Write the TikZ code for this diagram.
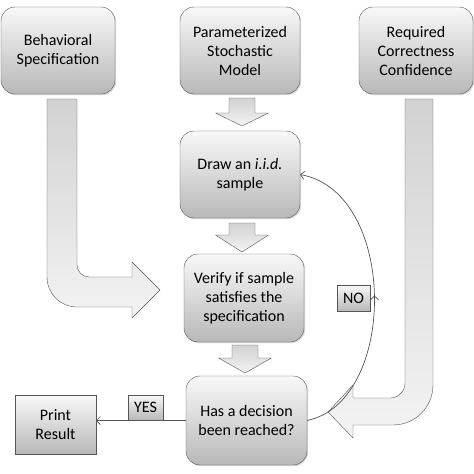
\documentclass[tikz,border=0pt]{standalone}
\usepackage{fontspec}
\setmainfont{Carlito}
\usepackage{tikz}
\usetikzlibrary{shadows,decorations.markings,arrows.meta}

\definecolor{boxtop}{HTML}{F8F8F8}
\definecolor{boxbot}{HTML}{B8B8B8}
\definecolor{rim}{HTML}{555555}
\definecolor{arrtop}{HTML}{D2D2D2}
\definecolor{arrbot}{HTML}{F3F3F3}

\begin{document}
\begin{tikzpicture}[x=1pt, y=-1pt, >={Straight Barb[length=4pt, width=8pt]},
	flowbox/.style={draw=rim, rounded corners=14pt, top color=boxtop, bottom color=boxbot, align=center, font=\fontsize{16}{19}\selectfont, inner sep=2pt, outer sep=0pt, drop shadow={shadow xshift=1.2pt, shadow yshift=-1.2pt, opacity=0.3}},
	tagbox/.style={draw=rim, top color=boxtop, bottom color=boxbot, align=center, font=\fontsize{16}{19}\selectfont, inner sep=2pt, outer sep=0pt, drop shadow={shadow xshift=1pt, shadow yshift=-1pt, opacity=0.3}},
	barrow/.style={draw=rim, top color=arrtop, bottom color=arrbot, line join=round}]
	\useasboundingbox (0,0) rectangle (474,474);

	% top row
	\node[flowbox, minimum width=114pt, minimum height=87pt] (spec) at (58,50.5) {Behavioral\\Specification};
	\node[flowbox, minimum width=120pt, minimum height=87pt] (model) at (240,50.5) {Parameterized\\Stochastic\\Model};
	\node[flowbox, minimum width=114pt, minimum height=87pt] (conf) at (416,50.5) {Required\\Correctness\\Confidence};

	% middle column
	\node[flowbox, minimum width=120pt, minimum height=87pt] (sample) at (240,174.5) {Draw an \textit{i.i.d.}\\sample};
	\node[flowbox, minimum width=120pt, minimum height=88pt] (verify) at (244,298) {Verify if sample\\satisfies the\\specification};
	\node[flowbox, minimum width=121pt, minimum height=89pt] (decide) at (246.5,420.5) {Has a decision\\been reached?};
	\node[tagbox, minimum width=81pt, minimum height=59pt] (print) at (55.5,424.5) {Print\\Result};

	% down arrows
	\foreach \cx/\t/\b/\p in {242/98/113/126, 242/223/235/252, 245/345/358/373}
		\draw[barrow] (\cx-13,\t) -- (\cx+13,\t) -- (\cx+13,\b) -- (\cx+26.5,\b) -- (\cx,\p) -- (\cx-26.5,\b) -- (\cx-13,\b) -- cycle;

	% bent arrows
	\draw[barrow] (47,99) -- (47,277) .. controls (47,293.6) and (60.4,307) .. (77,307) -- (132,307) -- (132,318) -- (160,290) -- (132,262) -- (132,277) -- (89,277) .. controls (82.4,277) and (77,271.6) .. (77,265) -- (77,99) -- cycle;
	\draw[barrow] (405,99) -- (405,383) .. controls (405,391.3) and (398.3,398) .. (390,398) -- (353,398) -- (353,385) -- (328,412) -- (353,438) -- (353,425) -- (393,425) .. controls (415.1,425) and (433,407.1) .. (433,385) -- (433,99) -- cycle;

	% yes / no
	\draw[rim, line width=0.7pt, ->] (decide.west) -- (decide.west -| print.east);
	\node[tagbox, minimum width=35pt, minimum height=25pt] (yes) at (145.5,407.5) {YES};
	\draw[rim, line width=0.7pt, ->, postaction=decorate, decoration={markings, mark=at position 0.5 with {\arrow{>}}}] (decide.east) .. controls (398,402) and (398,192) .. (sample.east);
	\node[tagbox, minimum width=33pt, minimum height=26pt] (no) at (353.5,298) {NO};
\end{tikzpicture}
\end{document}
